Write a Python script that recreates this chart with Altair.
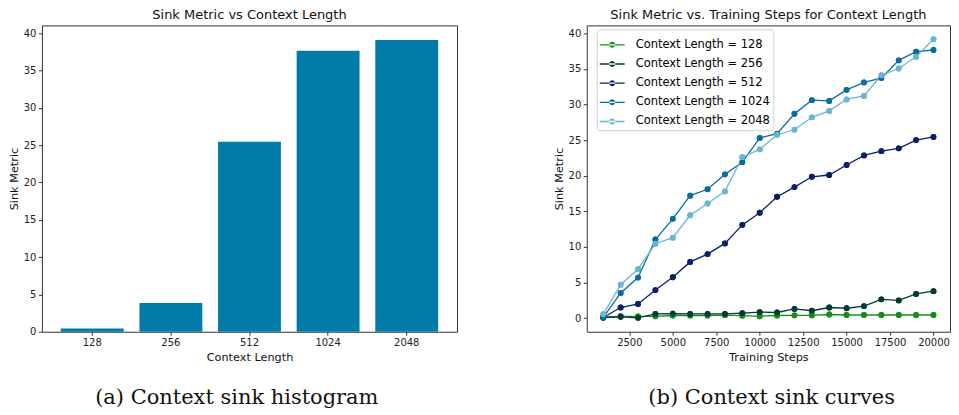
import altair as alt
import pandas as pd

# ---------------- data ----------------
ctx_labels = ["128", "256", "512", "1024", "2048"]
bar_values = [0.45, 3.85, 25.45, 37.65, 39.1]

steps = [1000, 2000, 3000, 4000, 5000, 6000, 7000, 8000, 9000, 10000,
         11000, 12000, 13000, 14000, 15000, 16000, 17000, 18000, 19000, 20000]
s128 = [0.15, 0.27, 0.25, 0.27, 0.38, 0.38, 0.38, 0.42, 0.35, 0.27,
        0.38, 0.4, 0.4, 0.52, 0.45, 0.45, 0.45, 0.45, 0.45, 0.45]
s256 = [0.1, 0.2, 0.05, 0.6, 0.65, 0.6, 0.6, 0.6, 0.7, 0.85,
        0.8, 1.3, 1.05, 1.5, 1.4, 1.7, 2.65, 2.5, 3.4, 3.8]
s512 = [0.1, 1.5, 2.0, 3.95, 5.75, 7.9, 9.0, 10.5, 13.1, 14.8,
        17.05, 18.4, 19.85, 20.1, 21.5, 22.85, 23.45, 23.85, 25.0, 25.45]
s1024 = [0.1, 3.55, 5.7, 11.05, 13.95, 17.2, 18.1, 20.2, 21.9, 25.3,
         25.9, 28.7, 30.6, 30.5, 32.05, 33.1, 33.7, 36.2, 37.4, 37.65]
s2048 = [0.55, 4.7, 6.9, 10.45, 11.3, 14.45, 16.1, 17.8, 22.6, 23.7,
         25.75, 26.45, 28.2, 29.1, 30.7, 31.2, 34.1, 35.05, 36.7, 39.15]

series_names = ["Context Length = 128", "Context Length = 256", "Context Length = 512",
                "Context Length = 1024", "Context Length = 2048"]
series_values = [s128, s256, s512, s1024, s2048]
series_colors = ["#178c17", "#023b35", "#0a1e6b", "#0b6ba1", "#6ab4d4"]

x_ticks = [2500, 5000, 7500, 10000, 12500, 15000, 17500, 20000]
y_ticks = [0, 5, 10, 15, 20, 25, 30, 35, 40]

bar_df = pd.DataFrame({"ctx": ctx_labels, "sink": bar_values})
rows = []
for name, vals in zip(series_names, series_values):
    for st, v in zip(steps, vals):
        rows.append({"series": name, "step": st, "sink": v})
line_df = pd.DataFrame(rows)

FONT = "DejaVu Sans"
CAP_FONT = "DejaVu Serif"
PLOT_H = 307

# ---------------- left: bar chart ----------------
bars = alt.Chart(bar_df).mark_bar(color="#027ba8").encode(
    x=alt.X("ctx:N", sort=ctx_labels,
            scale=alt.Scale(paddingInner=0.2, paddingOuter=0.24),
            axis=alt.Axis(title="Context Length", labelAngle=0)),
    y=alt.Y("sink:Q", scale=alt.Scale(domain=[0, 41.06], nice=False),
            axis=alt.Axis(title="Sink Metric", values=y_ticks)),
).properties(
    width=416, height=PLOT_H,
    title=alt.TitleParams("Sink Metric vs Context Length", font=FONT, fontSize=13,
                          fontWeight="normal", offset=3),
)

left = alt.vconcat(bars).properties(
    title=alt.TitleParams("(a) Context sink histogram", orient="bottom", font=CAP_FONT,
                          fontSize=21, fontWeight="normal", offset=24, anchor="middle",
                          dx=4)
)

# ---------------- right: line chart ----------------
legend_path = ("M-1,-0.055H1V0.055H-1Z"
               "M-0.24,0A0.24,0.24 0 1,0 0.24,0A0.24,0.24 0 1,0 -0.24,0Z")

color = alt.Color(
    "series:N",
    scale=alt.Scale(domain=series_names, range=series_colors),
    sort=series_names,
    legend=alt.Legend(
        title=None, orient="none", legendX=10, legendY=4, symbolType=legend_path,
        symbolSize=625, symbolStrokeWidth=0, symbolOpacity=1, labelFont=FONT,
        labelFontSize=11.5, labelOffset=11, rowPadding=1.2, padding=3,
        strokeColor="#d0d0d0", fillColor="white", cornerRadius=3,
    ),
)

xenc = alt.X("step:Q", scale=alt.Scale(domain=[50, 20950], nice=False, zero=False),
             axis=alt.Axis(title="Training Steps", values=x_ticks, format="d"))
yenc = alt.Y("sink:Q", scale=alt.Scale(domain=[-1.9, 41.1], nice=False, zero=False),
             axis=alt.Axis(title="Sink Metric", values=y_ticks))

points = alt.Chart(line_df).mark_point(filled=True, size=34, opacity=1).encode(
    x=xenc, y=yenc, color=color,
)
lines = alt.Chart(line_df).mark_line(strokeWidth=1.3).encode(
    x=xenc, y=yenc, color=color, detail="series:N",
    order=alt.Order("step:Q"),
)

curves = alt.layer(points, lines, points).properties(
    width=364, height=PLOT_H,
    title=alt.TitleParams("Sink Metric vs. Training Steps for Context Length", font=FONT,
                          fontSize=13, fontWeight="normal", offset=3),
)

right = alt.vconcat(curves).resolve_scale(color="independent").resolve_legend(
    color="independent"
).properties(
    title=alt.TitleParams("(b) Context sink curves", orient="bottom", font=CAP_FONT,
                          fontSize=21, fontWeight="normal", offset=24, anchor="middle",
                          dx=20)
)

chart = alt.hconcat(left, right, spacing=95).resolve_scale(
    color="independent"
).resolve_legend(color="independent").properties(
    padding={"left": 0, "top": 0, "right": 0, "bottom": 0}
).configure_view(
    stroke="#333333", strokeWidth=1
).configure_axis(
    domain=False, grid=False, labelFont=FONT, labelFontSize=10, labelColor="#222",
    titleFont=FONT, titleFontSize=11.3, titleFontWeight="normal", titleColor="#111",
    tickColor="#333", tickSize=3.5, labelPadding=2.5,
).configure_axisX(
    titlePadding=3.5
).configure_axisY(
    titlePadding=3.7
).configure_title(color="#111")

chart.save("out.html", embed_options={"renderer": "svg", "actions": False})
